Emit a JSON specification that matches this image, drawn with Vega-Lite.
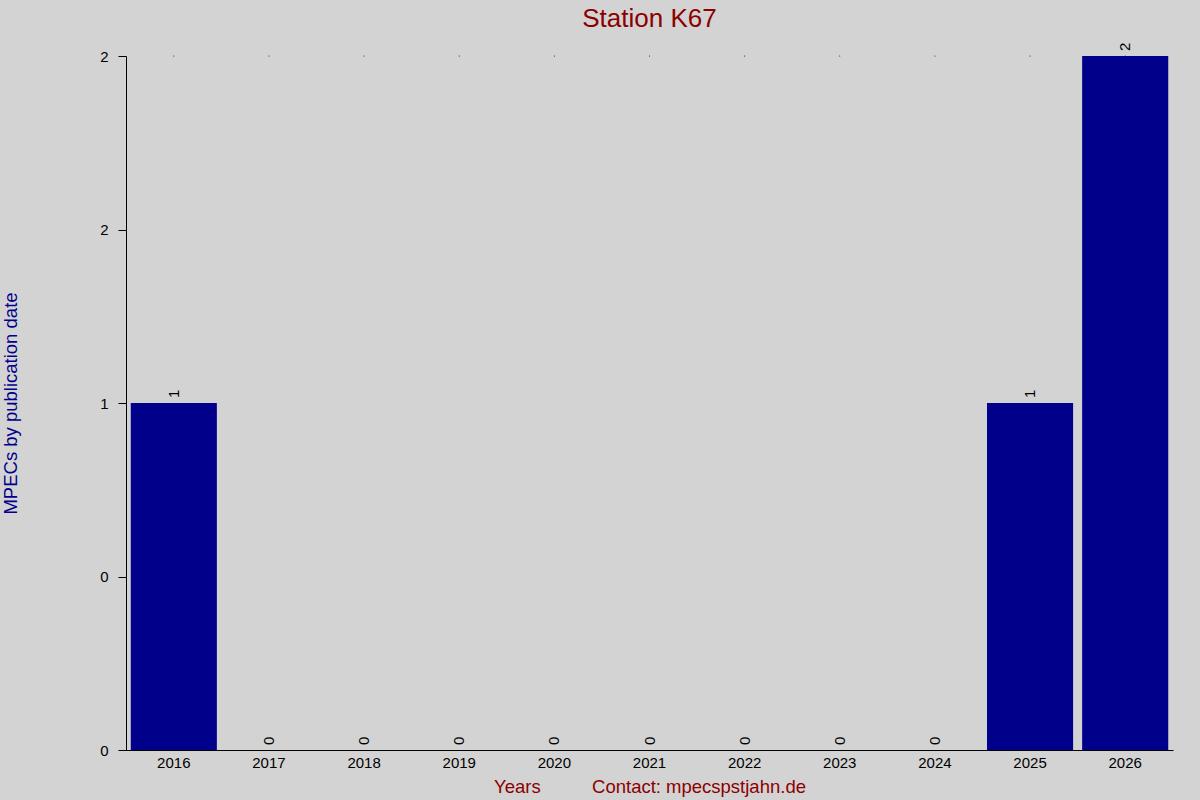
{
  "$schema": "https://vega.github.io/schema/vega-lite/v6.json",
  "width": 1047,
  "height": 694,
  "autosize": "none",
  "padding": {"left": 126, "top": 56, "right": 27, "bottom": 50},
  "background": "#d3d3d3",
  "config": {
    "view": {"stroke": null},
    "font": "Liberation Sans"
  },
  "title": {
    "text": "Station K67",
    "color": "#8b0000",
    "fontSize": 26,
    "fontWeight": "normal",
    "font": "Liberation Sans",
    "offset": 11
  },
  "data": {
    "values": [
      {"year": "2016", "mpecs": 1},
      {"year": "2017", "mpecs": 0},
      {"year": "2018", "mpecs": 0},
      {"year": "2019", "mpecs": 0},
      {"year": "2020", "mpecs": 0},
      {"year": "2021", "mpecs": 0},
      {"year": "2022", "mpecs": 0},
      {"year": "2023", "mpecs": 0},
      {"year": "2024", "mpecs": 0},
      {"year": "2025", "mpecs": 1},
      {"year": "2026", "mpecs": 2}
    ]
  },
  "encoding": {
    "x": {
      "field": "year",
      "type": "ordinal",
      "scale": {"paddingInner": 0.095, "paddingOuter": 0.05},
      "axis": {
        "title": "Years\u00a0\u00a0\u00a0\u00a0\u00a0\u00a0\u00a0\u00a0\u00a0\u00a0Contact: mpecspstjahn.de",
        "titleColor": "#8b0000",
        "titleFontSize": 18.5,
        "titleFontWeight": "normal",
        "titleBaseline": "middle",
        "titleY": 36,
        "labelAngle": 0,
        "labelFontSize": 15,
        "labelColor": "#000000",
        "labelPadding": 5,
        "ticks": false,
        "domainColor": "#000000",
        "domainWidth": 1
      }
    }
  },
  "layer": [
    {
      "mark": {"type": "bar", "color": "#00008b"},
      "encoding": {
        "y": {
          "field": "mpecs",
          "type": "quantitative",
          "scale": {"domain": [0, 2], "nice": false},
          "axis": {
            "title": "MPECs by publication date",
            "titleColor": "#00008b",
            "titleFontSize": 18.5,
            "titleFontWeight": "normal",
            "titleX": -116,
            "titleY": 347,
            "titleBaseline": "middle",
            "values": [0, 0.5, 1, 1.5, 2],
            "labelExpr": "datum.value == 0.5 ? '0' : format(datum.value, '.0f')",
            "labelFontSize": 15,
            "labelColor": "#000000",
            "labelPadding": 10,
            "tickSize": 8,
            "tickColor": "#000000",
            "domainColor": "#000000",
            "grid": false
          }
        }
      }
    },
    {
      "mark": {"type": "text", "angle": 270, "align": "left", "baseline": "middle", "dx": 5, "fontSize": 15, "color": "#000000"},
      "encoding": {
        "y": {"field": "mpecs", "type": "quantitative"},
        "text": {"field": "mpecs", "type": "quantitative"}
      }
    },
    {
      "mark": {"type": "point", "filled": true, "size": 1, "color": "#000000", "opacity": 1},
      "encoding": {
        "y": {"datum": 2, "type": "quantitative"}
      }
    }
  ]
}
